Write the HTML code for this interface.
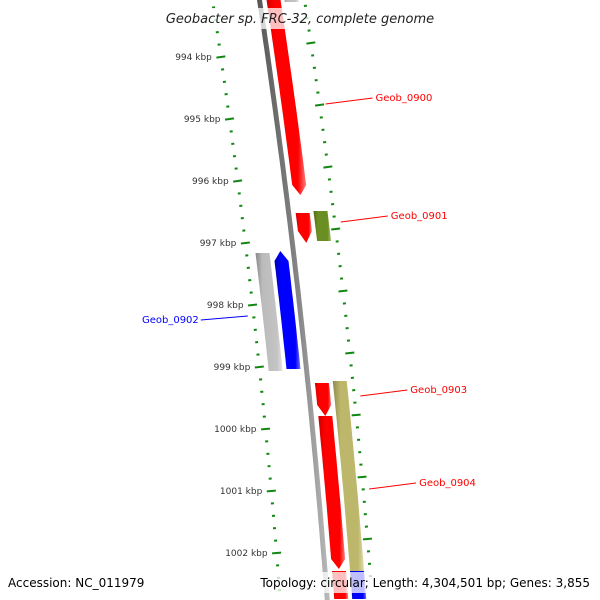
<!DOCTYPE html>
<html><head><meta charset="utf-8"><style>
html,body{margin:0;padding:0;background:#fff;width:600px;height:600px;overflow:hidden;}
svg{display:block;overflow:hidden;font-family:"DejaVu Sans","Liberation Sans",sans-serif;}
</style></head><body>
<svg id="map" width="600" height="600" viewBox="0 0 600 600">
<defs>
<clipPath id="frame"><rect x="0" y="0" width="600" height="600"/></clipPath>
<linearGradient id="gRed" x1="0" y1="0" x2="1" y2="0"><stop offset="0" stop-color="#c00"/><stop offset="0.25" stop-color="#f00"/><stop offset="0.8" stop-color="#f00"/><stop offset="1" stop-color="#ff8080"/></linearGradient>
<linearGradient id="gOlive" x1="0" y1="0" x2="1" y2="0"><stop offset="0" stop-color="#4f6a1a"/><stop offset="0.25" stop-color="#6b8e23"/><stop offset="0.8" stop-color="#6b8e23"/><stop offset="1" stop-color="#a6bf70"/></linearGradient>
<linearGradient id="gKhaki" x1="0" y1="0" x2="1" y2="0"><stop offset="0" stop-color="#8f8a50"/><stop offset="0.25" stop-color="#bdb76b"/><stop offset="0.8" stop-color="#bdb76b"/><stop offset="1" stop-color="#dedaa8"/></linearGradient>
<linearGradient id="gGrey" x1="0" y1="0" x2="1" y2="0"><stop offset="0" stop-color="#888"/><stop offset="0.25" stop-color="#bbb"/><stop offset="0.8" stop-color="#c4c4c4"/><stop offset="1" stop-color="#e6e6e6"/></linearGradient>
<linearGradient id="gBlue" x1="0" y1="0" x2="1" y2="0"><stop offset="0" stop-color="#0000b0"/><stop offset="0.25" stop-color="#00f"/><stop offset="0.8" stop-color="#00f"/><stop offset="1" stop-color="#7070ff"/></linearGradient>
<linearGradient id="gBack" x1="0" y1="0" x2="1" y2="0"><stop offset="0" stop-color="#555"/><stop offset="0.6" stop-color="#888"/><stop offset="1" stop-color="#bbb"/></linearGradient>
</defs>
<g clip-path="url(#frame)">
<g id="ticks"></g>
<g id="genes"></g>
<g id="labels"></g>
</g>
<rect x="155" y="8" width="290" height="21" fill="#fff" fill-opacity="0.75"/>
<text x="300" y="23" text-anchor="middle" font-size="13" font-style="italic" fill="#222">Geobacter sp. FRC-32, complete genome</text>
<rect x="0" y="572" width="600" height="21" fill="#fff" fill-opacity="0.75"/>
<text x="8" y="587" font-size="12" fill="#000">Accession: NC_011979</text>
<text x="590" y="587" text-anchor="end" font-size="12" fill="#000">Topology: circular; Length: 4,304,501 bp; Genes: 3,855</text>
</svg>
<script>
// data
const tickStart = 993000;
const tickEnd = 1003400;
const tickStep = 200;
const majorStep = 1000;
const geneNames = ["gene-top-red","gene-top-grey","Geob_0900","Geob_0901-a","Geob_0901","Geob_0902-grey","Geob_0902","Geob_0903","Geob_0904-red","Geob_0904","gene-bottom-red","gene-bottom-blue"];
const geneStarts = [992000,992000,992600,996516,996484,997161,997129,999258,999790,999226,1002290,1002290];
const geneEnds   = [992900,993120,996226,996999,996984,999065,999032,999790,1002258,1002290,1003200,1003200];
const geneLanes  = ["fi","fo","fi","fi","fo","ro","ri","fi","fi","fo","fi","fo"];
const geneArrow  = [0,0,1,1,0,0,-1,1,1,0,0,0];
const geneFills  = ["gRed","gGrey","gRed","gRed","gOlive","gGrey","gBlue","gRed","gRed","gKhaki","gRed","gBlue"];
const labelText  = ["Geob_0900","Geob_0901","Geob_0902","Geob_0903","Geob_0904"];
const labelBp    = [994758,996661,998177,999468,1000968];
const labelColor = ["#f00","#f00","#00f","#f00","#f00"];
const labelSide  = [1,1,-1,1,1];

// axes
const Y0 = 57, BP0 = 994000, PXPERBP = 0.062;
function yOf(bp){ return Y0 + (bp - BP0) * PXPERBP; }
function xb(y){ return 259.5 + 0.1503*y - 0.0000622*y*y; }
function slope(y){ return 0.1503 - 2*0.0000622*y; }
const laneOff = {ro:-31, ri:-13, fi:14, fo:32};
const LANE_W = 14;
const NS = "http://www.w3.org/2000/svg";
function mk(tag, attrs, parent){ const e=document.createElementNS(NS,tag); for(const k in attrs) e.setAttribute(k,attrs[k]); parent.appendChild(e); return e; }

// backbone
const gG = document.getElementById('genes');
{
  let pts=[]; for(let y=-10;y<=600;y+=10) pts.push((xb(y)-2.5).toFixed(1)+','+y);
  for(let y=600;y>=-10;y-=10) pts.push((xb(y)+2.5).toFixed(1)+','+y);
  const bb = mk('polygon',{points:pts.join(' '),fill:'url(#gBack)'},gG);
  
  
}

// ticks
const gT = document.getElementById('ticks');
function tick(y, x, len, name){
  const s = slope(y), n = Math.hypot(1,s), ux = 1/n, uy = -s/n;
  const l = mk('line',{x1:(x-ux*len/2).toFixed(1),y1:(y-uy*len/2).toFixed(1),x2:(x+ux*len/2).toFixed(1),y2:(y+uy*len/2).toFixed(1),stroke:'#118811','stroke-width':2},gT);
  
  
}
for(let bp=tickStart; bp<=tickEnd; bp+=tickStep){
  const major = bp % majorStep === 0;
  const yl = yOf(bp);
  if(yl > 598) continue;
  const xl = xb(yl) - 47;
  tick(yl, xl, major?9:3, major?'left-major-tick':'left-minor-tick');
  if(major && bp>=994000 && bp<=1002000){
    const t = mk('text',{x:(xl-9).toFixed(1),y:(yl+3).toFixed(1),'text-anchor':'end','font-size':9,fill:'#333'},gT);
    t.textContent = (bp/1000)+' kbp';
    
    
  }
  const yr = yOf(bp) - 14;
  const xr = xb(yr) + 45;
  tick(yr, xr, major?9:3, major?'right-major-tick':'right-minor-tick');
}

// genes
for(let i=0;i<geneNames.length;i++){
  const y1 = Math.max(-10, yOf(geneStarts[i])), y2 = Math.min(600, yOf(geneEnds[i]));
  const off = laneOff[geneLanes[i]], h = LANE_W/2;
  const a = geneArrow[i], AL = 10;
  const top = a===-1 ? y1+AL : y1, bot = a===1 ? y2-AL : y2;
  let L=[], R=[];
  const step = Math.max(2,(bot-top)/20);
  for(let y=top; y<=bot+0.01; y+=step){ const c=xb(y)+off; L.push([c-h,y]); R.push([c+h,y]); }
  let pts=[];
  if(a===-1) pts.push([xb(y1)+off,y1]);
  pts = pts.concat(R);
  if(a===1) pts.push([xb(y2)+off,y2]);
  pts = pts.concat(L.reverse());
  const p = mk('polygon',{points:pts.map(q=>q[0].toFixed(1)+','+q[1].toFixed(1)).join(' '),fill:'url(#'+geneFills[i]+')'},gG);
  
  
}

// labels
const gL = document.getElementById('labels');
for(let i=0;i<labelText.length;i++){
  const y = yOf(labelBp[i]);
  let x1, x2, ty;
  if(labelSide[i]===1){ x1 = xb(y)+45+6; x2 = x1+47; ty = y-6; }
  else { x1 = xb(y)-47-6; x2 = x1-47; ty = y+4; }
  const ln = mk('line',{x1:x1.toFixed(1),y1:y.toFixed(1),x2:x2.toFixed(1),y2:ty.toFixed(1),stroke:labelColor[i],'stroke-width':1},gL);
  
  
  const t = mk('text',{x:(labelSide[i]===1?x2+3:x2-2).toFixed(1),y:(ty+3).toFixed(1),'text-anchor':labelSide[i]===1?'start':'end','font-size':10,fill:labelColor[i]},gL);
  t.textContent = labelText[i];
  
  
}
</script>
</body></html>
